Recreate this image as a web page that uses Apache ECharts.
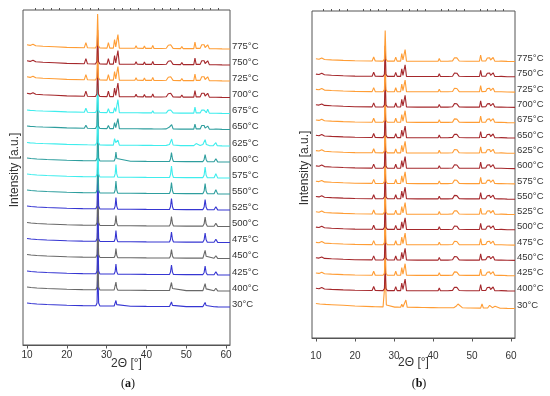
<!DOCTYPE html>
<html>
<head>
<meta charset="utf-8">
<script src="https://cdn.jsdelivr.net/npm/echarts@6/dist/echarts.min.js"></script>
<style>html,body{margin:0;padding:0;background:#fff}#c{width:550px;height:396px}</style>
</head>
<body>
<div id="c"></div>
<script>
// ---- DATA (y = intensity in px-like a.u. above each curve's baseline) ----
const labelsA = ['30°C','400°C','425°C','450°C','475°C','500°C','525°C','550°C','575°C','600°C','625°C','650°C','675°C','700°C','725°C','750°C','775°C'];
const labelsB = labelsA.slice();
const xTicks = [10, 20, 30, 40, 50, 60];
const xMinorTicks = [12,14,16,18,22,24,26,28,32,34,36,38,42,44,46,48,52,54,56,58];

// stacking offsets (baseline at right end)
const offsetsA = [38, 54, 70, 86.5, 102.5, 118.5, 135, 151, 167, 183, 199, 215.5, 231.5, 247.5, 264, 280, 296];
const offsetsB = [29.5, 47, 62.3, 77.6, 92.9, 108.2, 123.5, 138.8, 154.1, 169.4, 184.7, 200, 215.3, 230.6, 245.9, 261.2, 276.5];

// 2θ sample positions
const xLow = [10, 11, 12.5, 15, 20, 24, 27.3, 27.6, 27.8, 28.0, 28.3, 30, 31.9, 32.15, 32.35, 32.55, 32.8, 36, 40, 45.8, 46.05, 46.3, 46.55, 46.8, 50, 54.2, 54.5, 54.75, 55.0, 55.3, 57.0, 57.45, 57.9, 61];
const xMid = [10, 10.8, 11.5, 12.2, 14, 17, 20, 24.4, 24.8, 25.2, 27.2, 27.55, 27.75, 27.95, 28.3, 30.1, 30.45, 30.8, 31.7, 32.0, 32.3, 32.55, 32.85, 33.2, 36, 37.1, 37.4, 37.7, 39.2, 39.5, 39.8, 41.3, 41.6, 41.9, 43.2, 43.5, 43.8, 45.0, 45.5, 45.8, 46.1, 46.35, 46.7, 48.6, 48.9, 49.2, 51.9, 52.2, 52.5, 53.5, 53.9, 54.2, 54.5, 54.75, 55.05, 55.4, 55.8, 56.8, 57.1, 57.45, 57.8, 59, 61];
const xB30 = [10, 11, 12.5, 14, 17, 20, 24.4, 24.8, 25.2, 27.2, 27.55, 27.8, 28.05, 28.4, 30.2, 30.5, 30.8, 31.7, 32.0, 32.3, 32.7, 33.05, 33.4, 36, 37.2, 37.5, 37.8, 39.5, 39.8, 40.1, 41.5, 41.8, 42.1, 43.5, 43.8, 44.1, 45.3, 45.9, 46.4, 46.8, 47.5, 48.9, 49.2, 49.5, 52.2, 52.55, 52.9, 54.0, 54.5, 54.8, 55.2, 55.6, 55.9, 56.2, 57.2, 57.5, 57.8, 59, 61];

// panel (a) intensities
const yA30  = [4, 3.5, 3, 2.5, 1.8, 1.4, 1.2, 4, 40, 4, 1.1, 1, 1, 2.4, 6.5, 2.4, 0.9, 0.8, 0.6, 0.5, 1.6, 5.0, 1.6, 0.5, 0.4, 0.4, 1.45, 4.6, 1.45, 0.3, 0.2, 1.7, 0.1, 0];
const yA400 = [4, 3.5, 3, 2.5, 1.8, 1.4, 1.2, 4, 40, 4, 1.1, 1, 1, 3, 9, 3, 0.9, 0.8, 0.6, 0.5, 2.5, 8.5, 2.5, 0.5, 0.4, 0.4, 2.15, 7.4, 2.15, 0.3, 0.2, 2.7, 0.1, 0];
const yA425 = [4, 3.5, 3, 2.5, 1.8, 1.4, 1.2, 4, 40, 4, 1.1, 1, 1, 3.5, 11, 3.5, 0.9, 0.8, 0.6, 0.5, 2.9, 10, 2.9, 0.5, 0.4, 0.4, 2.55, 9, 2.55, 0.3, 0.2, 3.2, 0.1, 0];
const yA450 = [4, 3.5, 3, 2.5, 1.8, 1.4, 1.2, 4, 40, 4, 1.1, 1, 1, 3.25, 10, 3.25, 0.9, 0.8, 0.6, 0.5, 2.6, 9, 2.6, 0.5, 0.4, 0.4, 2.3, 8.1, 2.3, 0.3, 0.2, 2.7, 0.1, 0];
const yA475 = [4, 3.5, 3, 2.5, 1.8, 1.4, 1.2, 4, 40, 4, 1.1, 1, 1, 3.75, 12, 3.75, 0.9, 0.8, 0.6, 0.5, 3, 10.5, 3, 0.5, 0.4, 0.4, 2.65, 9.4, 2.65, 0.3, 0.2, 3.2, 0.1, 0];
const yA500 = [4, 3.5, 3, 2.5, 1.8, 1.4, 1.2, 4, 40, 4, 1.1, 1, 1, 3.5, 11, 3.5, 0.9, 0.8, 0.6, 0.5, 2.9, 10, 2.9, 0.5, 0.4, 0.4, 2.65, 9.4, 2.65, 0.3, 0.2, 3.2, 0.1, 0];
const yA525 = [4, 3.5, 3, 2.5, 1.8, 1.4, 1.2, 4, 40, 4, 1.1, 1, 1, 3.9, 12.5, 3.9, 0.9, 0.8, 0.6, 0.5, 3.25, 11.5, 3.25, 0.5, 0.4, 0.4, 2.9, 10.4, 2.9, 0.3, 0.2, 3.2, 0.1, 0];
const yA550 = [4, 3.5, 3, 2.5, 1.8, 1.4, 1.2, 4, 40, 4, 1.1, 1, 1, 4, 13, 4, 0.9, 0.8, 0.6, 0.5, 3.25, 11.5, 3.25, 0.5, 0.4, 0.4, 2.9, 10.4, 2.9, 0.3, 0.2, 4.2, 0.1, 0];
const yA575 = [4, 3.5, 3, 2.5, 1.8, 1.4, 1.2, 4, 40, 4, 1.1, 1, 1, 4.1, 13.5, 4.1, 0.9, 0.8, 0.6, 0.5, 3.4, 12, 3.4, 0.5, 0.4, 0.4, 3, 10.9, 3, 0.3, 0.2, 4.2, 0.1, 0];
const yA600 = [4, 3.5, 3, 2.5, 1.8, 1.4, 1.2, 4, 40, 4, 1.1, 1, 1, 3.5, 10, 3.5, 3, 0.8, 0.6, 0.5, 3, 9.5, 3, 0.5, 0.4, 0.4, 2.6, 7.4, 2.6, 0.3, 0.2, 3.2, 0.1, 0];
const yA625 = [3.5, 3.1, 3.0, 2.8, 2.5, 2.1, 1.6, 1.3, 3.3, 1.2, 1.0, 3.5, 36, 3.5, 1.0, 0.9, 2.9, 0.9, 0.9, 7.4, 3.5, 3.5, 5.8, 0.8, 0.7, 0.7, 1.0, 0.7, 0.6, 0.8, 0.6, 0.6, 1.0, 0.5, 0.5, 0.6, 0.5, 0.6, 1.0, 1.5, 3.0, 7.0, 1.0, 0.4, 0.6, 0.4, 0.4, 1.2, 2.4, 0.6, 0.8, 1.5, 3.0, 6.4, 1.5, 0.6, 0.4, 0.3, 0.8, 3.3, 0.3, 0.1, 0];
const yA650 = [3.5, 3.1, 3.0, 2.8, 2.5, 2.1, 1.6, 1.3, 4.3, 1.2, 1.0, 3.5, 36, 3.5, 1.0, 0.9, 3.9, 0.9, 0.9, 6.9, 2.0, 2.3, 10.8, 0.8, 0.7, 0.7, 2.0, 0.7, 0.6, 2.0, 0.6, 0.6, 2.3, 0.5, 0.5, 1.5, 0.5, 0.6, 2.0, 2.5, 4.5, 4.8, 0.6, 0.4, 1.6, 0.4, 0.4, 5.4, 0.6, 0.6, 4.0, 2.4, 4.0, 1.4, 0.8, 3.4, 0.4, 0.3, 1.6, 0.5, 0.2, 0.1, 0];
const yA675 = [3.5, 3.1, 3.0, 2.8, 2.5, 2.1, 1.6, 1.3, 5.3, 1.2, 1.0, 3.5, 36, 3.5, 1.0, 0.9, 4.9, 0.9, 0.9, 5.9, 2.0, 2.3, 13.8, 0.8, 0.7, 0.7, 2.5, 0.7, 0.6, 2.4, 0.6, 0.6, 2.8, 0.5, 0.5, 1.8, 0.5, 0.6, 3.2, 2.4, 3.5, 2.2, 0.6, 0.4, 2.0, 0.4, 0.4, 6.4, 0.6, 0.6, 3.4, 2.2, 3.4, 1.4, 0.8, 4.2, 0.4, 0.3, 1.6, 0.3, 0.2, 0.1, 0];
const yAhi  = [4.3, 3.6, 4.8, 3.2, 2.8, 2.2, 1.6, 1.3, 6.3, 1.2, 1.0, 3.5, 35, 3.5, 1.0, 0.9, 6.4, 0.9, 0.9, 9.5, 2.2, 2.5, 14.5, 0.8, 0.7, 0.7, 3.2, 0.7, 0.6, 3.1, 0.6, 0.6, 3.6, 0.5, 0.5, 2.5, 0.5, 0.7, 3.8, 2.8, 4.2, 2.5, 0.6, 0.4, 2.6, 0.4, 0.4, 7.0, 0.6, 0.6, 4.2, 2.5, 4.2, 1.5, 0.8, 4.2, 0.4, 0.3, 1.8, 0.3, 0.2, 0.1, 0];

// panel (b) intensities
const yBhi  = [2.7, 2.3, 3.5, 2.0, 1.6, 1.1, 0.7, 0.5, 4.5, 0.5, 0.4, 2.5, 31, 2.5, 0.4, 0.4, 4.4, 0.4, 0.4, 8.0, 1.5, 2.0, 12.0, 0.4, 0.3, 0.3, 2.3, 0.3, 0.3, 2.3, 0.3, 0.3, 3.0, 0.3, 0.3, 1.8, 0.3, 0.6, 3.8, 4.2, 3.6, 2.0, 0.5, 0.3, 2.3, 0.3, 0.3, 6.5, 0.5, 0.6, 3.5, 2.2, 3.8, 1.5, 0.8, 4.0, 0.4, 0.3, 1.6, 0.4, 0.2, 0.1, 0];
const yB30  = [5.0, 4.5, 4.1, 3.8, 3.2, 2.5, 1.9, 3.5, 1.8, 1.6, 3.5, 31, 3.5, 1.5, 1.4, 2.8, 1.4, 1.3, 4.3, 1.5, 1.8, 8.5, 1.2, 1.1, 1.0, 2.0, 1.0, 0.9, 2.0, 0.9, 0.8, 2.0, 0.8, 0.7, 1.6, 0.7, 0.8, 2.2, 4.5, 3.4, 0.8, 0.5, 1.6, 0.5, 0.4, 4.5, 0.5, 0.5, 3.2, 2.8, 0.8, 0.5, 2.2, 0.4, 0.3, 1.2, 0.3, 0.1, 0];

const ORANGE = '#FF9D35', RED = '#A5282C', CYAN = '#3FEDED', TEAL = '#2E9E9E', BLUE = '#3636D2', GRAY = '#686868';
const colorsA = [BLUE, GRAY, BLUE, GRAY, BLUE, GRAY, BLUE, TEAL, CYAN, TEAL, CYAN, TEAL, CYAN, RED, ORANGE, RED, ORANGE];
const colorsB = [ORANGE, RED, ORANGE, RED, ORANGE, RED, ORANGE, RED, ORANGE, RED, ORANGE, RED, ORANGE, RED, ORANGE, RED, ORANGE];

const profilesA = [
  [xLow, yA30], [xLow, yA400], [xLow, yA425], [xLow, yA450], [xLow, yA475], [xLow, yA500], [xLow, yA525],
  [xLow, yA550], [xLow, yA575], [xLow, yA600], [xMid, yA625], [xMid, yA650], [xMid, yA675],
  [xMid, yAhi], [xMid, yAhi], [xMid, yAhi], [xMid, yAhi]
];
const profilesB = labelsB.map((l, i) => i === 0 ? [xB30, yB30] : [xMid, yBhi]);

// ---- chart ----
const FONT = 'Liberation Sans, Arial, sans-serif';
const SERIF = 'Liberation Serif, Times New Roman, serif';
const TXT = '#333';
const chart = echarts.init(document.getElementById('c'));
const series = [];
function addSeries(panel, names, profiles, offsets, colors) {
  names.forEach((name, i) => {
    const xs = profiles[i][0], ys = profiles[i][1];
    series.push({
      type: 'line', name: name, xAxisIndex: panel * 2, yAxisIndex: panel,
      data: xs.map((x, k) => [x, ys[k] + offsets[i]]),
      showSymbol: false, symbol: 'none', silent: true, animation: false,
      lineStyle: { color: colors[i], width: 1.1 }, itemStyle: { color: colors[i] },
      endLabel: { show: true, formatter: p => p.seriesName, color: TXT, fontSize: 9.5,
        fontFamily: FONT, distance: 2, offset: [0, -3] }
    });
  });
}
addSeries(0, labelsA, profilesA, offsetsA, colorsA);
addSeries(1, labelsB, profilesB, offsetsB, colorsB);

const tickLabelStyle = { fontSize: 10, color: TXT, fontFamily: FONT };
function xMain(grid, margin, gap) {
  return {
    type: 'value', gridIndex: grid, min: 9, max: 61,
    axisLine: { show: true, lineStyle: { color: '#555', width: 1 } },
    axisTick: { show: true, customValues: xTicks, length: 3.5, lineStyle: { color: '#555' } },
    axisLabel: Object.assign({ customValues: xTicks, margin: margin }, tickLabelStyle),
    splitLine: { show: false },
    name: '2Θ [°]', nameLocation: 'middle', nameGap: gap, nameMoveOverlap: false,
    nameTextStyle: { fontSize: 12, color: TXT, fontFamily: FONT }
  };
}
function xMinor(grid) {
  return {
    type: 'value', gridIndex: grid, min: 9, max: 61,
    axisLine: { show: false },
    axisTick: { show: true, customValues: xMinorTicks, length: 2, lineStyle: { color: '#555' } },
    axisLabel: { show: false }, splitLine: { show: false }
  };
}
function yAx(grid, max) {
  return { type: 'value', gridIndex: grid, min: 0, max: max, axisLine: { show: false },
    axisTick: { show: false }, axisLabel: { show: false }, splitLine: { show: false } };
}

chart.setOption({
  backgroundColor: '#fff',
  animation: false,
  grid: [
    { left: 23, top: 10, width: 207, height: 335, show: true, borderColor: '#555', borderWidth: 1 },
    { left: 312, top: 11, width: 203, height: 327, show: true, borderColor: '#555', borderWidth: 1 }
  ],
  xAxis: [xMain(0, 5.5, 12.5), xMinor(0), xMain(1, 13.5, 18.7), xMinor(1)],
  yAxis: [yAx(0, 335), yAx(1, 327)],
  series: series,
  graphic: [
    { type: 'text', x: 14.5, y: 170, rotation: Math.PI / 2,
      style: { text: 'Intensity [a.u.]', fontSize: 12, fill: TXT, fontFamily: FONT, align: 'center', verticalAlign: 'middle' } },
    { type: 'text', x: 304.5, y: 168, rotation: Math.PI / 2,
      style: { text: 'Intensity [a.u.]', fontSize: 12, fill: TXT, fontFamily: FONT, align: 'center', verticalAlign: 'middle' } },
    { type: 'text', x: 128, y: 384,
      style: { text: '({b|a})', fontSize: 12, fill: '#111', fontFamily: SERIF, align: 'center', verticalAlign: 'middle',
        rich: { b: { fontWeight: 'bold', fontSize: 12, fontFamily: SERIF, fill: '#111' } } } },
    { type: 'text', x: 419, y: 384,
      style: { text: '({b|b})', fontSize: 12, fill: '#111', fontFamily: SERIF, align: 'center', verticalAlign: 'middle',
        rich: { b: { fontWeight: 'bold', fontSize: 12, fontFamily: SERIF, fill: '#111' } } } }
  ]
});
</script>
</body>
</html>
